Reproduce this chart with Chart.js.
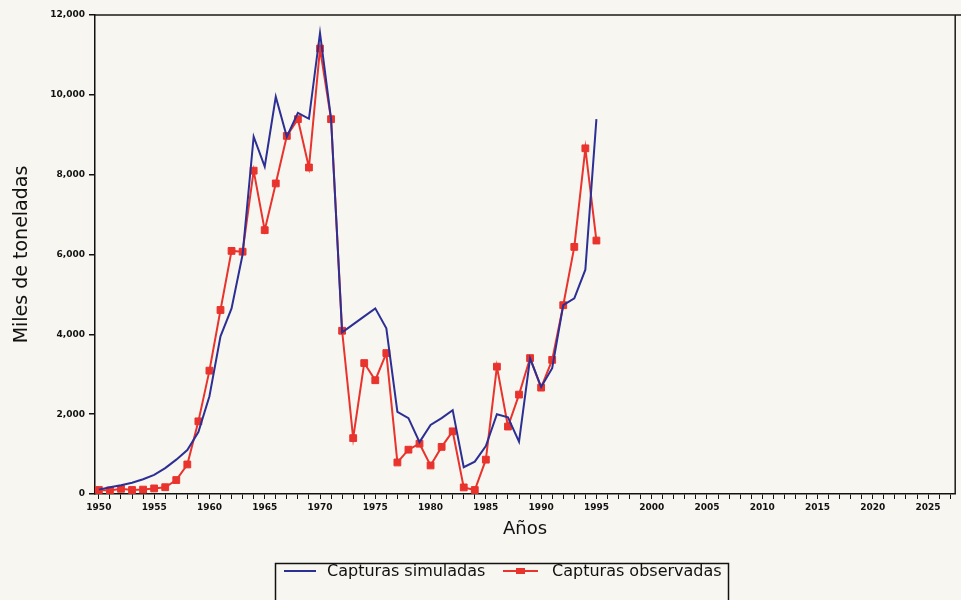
<!DOCTYPE html>
<html>
<head>
<meta charset="utf-8">
<script src="https://cdn.jsdelivr.net/npm/chart.js@4"></script>
<style>
  html, body { margin: 0; padding: 0; background: #f7f6f0; overflow: hidden; }
  #wrap { width: 961px; height: 600px; position: relative; }
</style>
</head>
<body>
<div id="wrap"><canvas id="c" width="961" height="600"></canvas></div>
<script>
const years = [1950,1951,1952,1953,1954,1955,1956,1957,1958,1959,
               1960,1961,1962,1963,1964,1965,1966,1967,1968,1969,
               1970,1971,1972,1973,1974,1975,1976,1977,1978,1979,
               1980,1981,1982,1983,1984,1985,1986,1987,1988,1989,
               1990,1991,1992,1993,1994,1995];
const simuladas = [110,170,220,280,370,480,650,860,1100,1550,
                   2450,3950,4650,6000,8950,8200,9950,8950,9550,9400,
                   11550,9400,4050,4250,4450,4650,4150,2060,1900,1300,
                   1730,1900,2100,670,810,1200,2000,1920,1310,3400,
                   2680,3150,4730,4900,5620,9390];
const observadas = [100,90,130,100,110,140,170,350,740,1820,
                    3090,4610,6090,6070,8100,6610,7780,8970,9390,8180,
                    11160,9390,4090,1400,3280,2850,3530,790,1110,1260,
                    715,1180,1570,165,100,860,3190,1690,2490,3405,
                    2665,3360,4730,6190,8660,6350];
const yTicks = [0,2000,4000,6000,8000,10000,12000];
const xTickYears = [];
for (let y = 1950; y <= 2027; y++) xTickYears.push(y);
const seriesNames = ['Capturas simuladas', 'Capturas observadas'];
const blue = '#2c2f93';
const red = '#e9332d';

const bgPlugin = {
  id: 'bg',
  beforeDraw(chart) {
    const ctx = chart.ctx;
    ctx.save();
    ctx.fillStyle = '#f7f6f0';
    ctx.fillRect(0, 0, chart.width, chart.height);
    ctx.restore();
  },
  afterDraw(chart) {
    const ctx = chart.ctx;
    const a = chart.chartArea;
    ctx.save();
    ctx.strokeStyle = '#1d1a16';
    ctx.lineWidth = 1.5;
    ctx.beginPath();
    ctx.moveTo(a.left, a.top);
    ctx.lineTo(chart.width, a.top);
    ctx.moveTo(a.right, a.top);
    ctx.lineTo(a.right, a.bottom);
    ctx.stroke();
    // legend box
    ctx.lineWidth = 1.5;
    ctx.strokeStyle = '#111';
    ctx.strokeRect(275.5, 563.5, 453, 50);
    const ly = 571;
    ctx.lineWidth = 2;
    ctx.strokeStyle = blue;
    ctx.beginPath(); ctx.moveTo(284, ly); ctx.lineTo(316, ly); ctx.stroke();
    ctx.strokeStyle = red;
    ctx.beginPath(); ctx.moveTo(503, ly); ctx.lineTo(538, ly); ctx.stroke();
    ctx.fillStyle = red;
    ctx.fillRect(516, ly - 3, 9, 6);
    ctx.fillStyle = '#111';
    ctx.font = '16px "DejaVu Sans"';
    ctx.textBaseline = 'middle';
    ctx.textAlign = 'left';
    ctx.fillText(seriesNames[0], 327, ly + 1);
    ctx.fillText(seriesNames[1], 552, ly + 1);
    ctx.restore();
  }
};

new Chart(document.getElementById('c'), {
  type: 'line',
  data: {
    datasets: [
      {
        label: seriesNames[0],
        data: years.map((y, i) => ({x: y, y: simuladas[i]})),
        borderColor: blue,
        borderWidth: 2,
        pointRadius: 0,
        tension: 0,
        fill: false
      },
      {
        label: seriesNames[1],
        data: years.map((y, i) => ({x: y, y: observadas[i]})),
        borderColor: red,
        backgroundColor: red,
        borderWidth: 2,
        pointStyle: 'rect',
        pointRadius: 4.8,
        pointBorderWidth: 1,
        pointBorderColor: red,
        pointBackgroundColor: red,
        tension: 0,
        fill: false
      }
    ]
  },
  options: {
    responsive: false,
    animation: false,
    layout: { padding: { top: 15, right: 2, left: 0, bottom: 0 } },
    plugins: { legend: { display: false }, tooltip: { enabled: false } },
    scales: {
      x: {
        type: 'linear',
        min: 1949.65,
        max: 2027.45,
        afterBuildTicks(scale) { scale.ticks = xTickYears.map(v => ({value: v})); },
        afterFit(scale) { scale.height = 106; },
        ticks: {
          autoSkip: false,
          maxRotation: 0,
          minRotation: 0,
          padding: 3,
          color: '#111',
          font: { family: 'DejaVu Sans', size: 9, weight: 'bold' },
          callback: (v) => (v % 5 === 0 ? String(v) : '')
        },
        grid: { display: true, drawOnChartArea: false, drawTicks: true, tickLength: 5, color: '#111', lineWidth: 1 },
        border: { display: true, color: '#111', width: 1.5 },
        title: {
          display: true,
          text: 'Años',
          color: '#111',
          font: { family: 'DejaVu Sans', size: 18 },
          padding: { top: 0, bottom: 60 }
        }
      },
      y: {
        min: 0,
        max: 12000,
        afterBuildTicks(scale) { scale.ticks = yTicks.map(v => ({value: v})); },
        afterFit(scale) { scale.width = 95; },
        ticks: {
          padding: 4,
          color: '#111',
          font: { family: 'DejaVu Sans', size: 9, weight: 'bold' },
          callback: (v) => Number(v).toLocaleString('en-US')
        },
        grid: { display: true, drawOnChartArea: false, drawTicks: true, tickLength: 6, color: '#111', lineWidth: 1.5 },
        border: { display: true, color: '#111', width: 1.5 },
        title: {
          display: true,
          text: 'Miles de toneladas',
          color: '#111',
          font: { family: 'DejaVu Sans', size: 19 },
          padding: { top: 11, bottom: 0 }
        }
      }
    }
  },
  plugins: [bgPlugin]
});
</script>
</body>
</html>
